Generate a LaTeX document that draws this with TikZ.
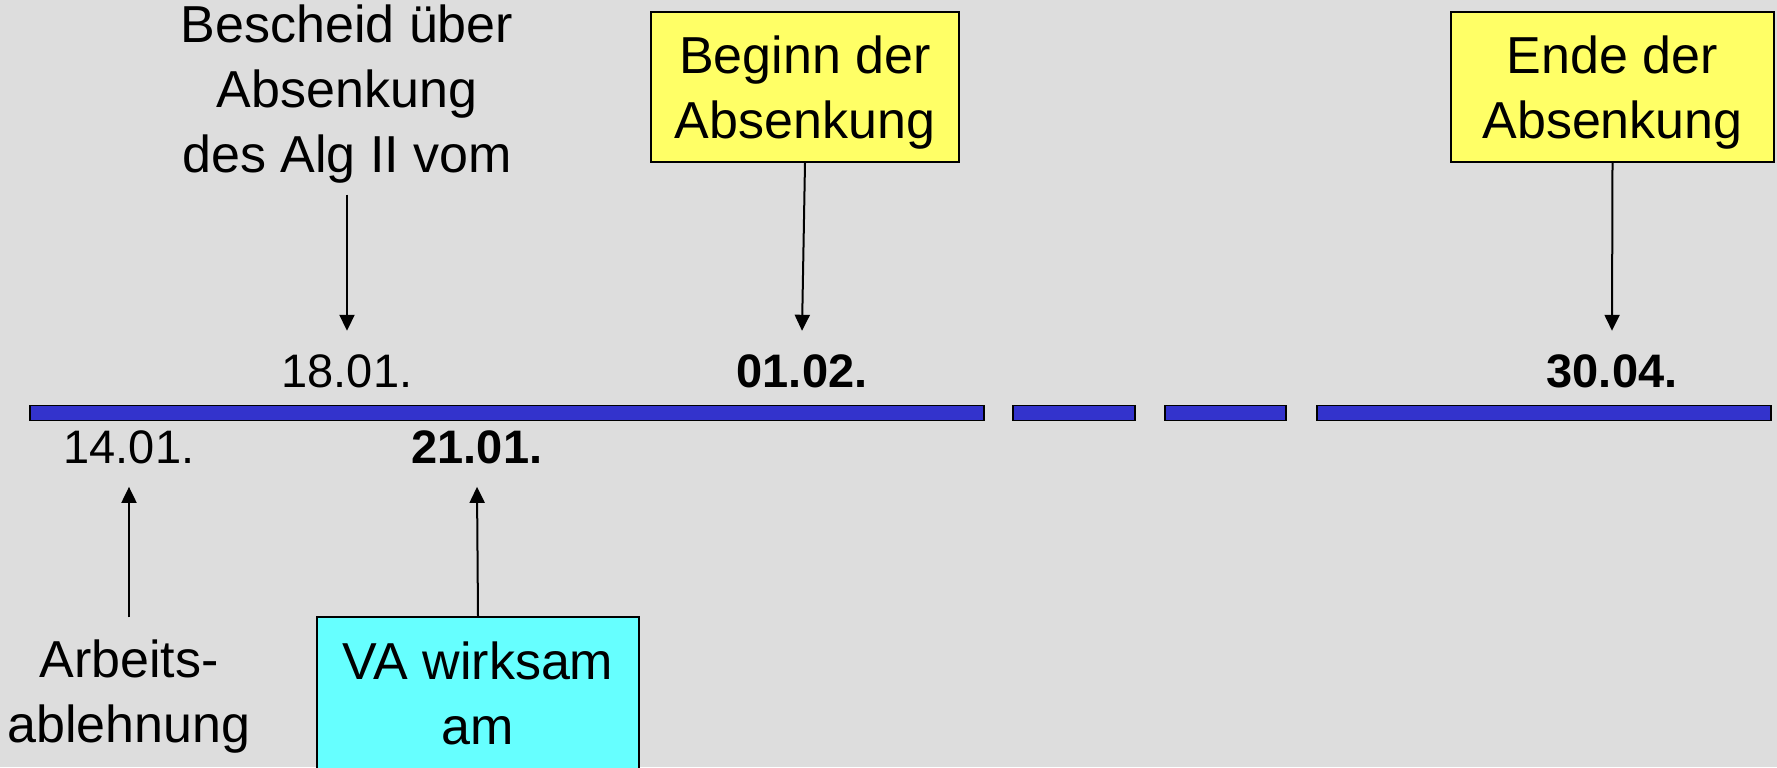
\documentclass[tikz,border=0pt]{standalone}
\usepackage{fontspec}
\setmainfont{Liberation Sans}
\usetikzlibrary{arrows.meta}
\definecolor{BackClr}{rgb}{0.867,0.867,0.867}
\definecolor{BarClr}{rgb}{0.2,0.2,0.8}
\definecolor{MarkClr}{rgb}{1,1,0.4}
\definecolor{VAClr}{rgb}{0.4,1,1}

\begin{document}
\begin{tikzpicture}[x=0.5pt,y=-0.5pt,
  txtnote/.style={align=center,inner xsep=0pt,inner ysep=11pt,text depth=0pt,
    font=\fontsize{26}{32.5}\selectfont},
  datenode/.style={anchor=base,inner xsep=0pt,inner ysep=11.5pt,
    font=\fontsize{23.5}{28}\selectfont},
  markbox/.style={draw=black,line width=0.85pt,inner sep=0pt,align=center,
    text depth=0pt,font=\fontsize{26}{32.5}\selectfont},
  connarrow/.style={line width=1pt,-{Triangle[length=8pt,width=7.5pt]}},
  barseg/.style={draw=black,line width=0.8pt,fill=BarClr}]

\useasboundingbox (0,0) rectangle (1777,767);
\clip (0,0) rectangle (1777,767);
\fill[BackClr] (0,0) rectangle (1777,767);

% Zeitstrahl
\draw[barseg] (30,405.5) rectangle (984,420.5);
\draw[barseg] (1013,405.5) rectangle (1135,420.5);
\draw[barseg] (1165,405.5) rectangle (1286,420.5);
\draw[barseg] (1317,405.5) rectangle (1771,420.5);

% Daten
\node[datenode] (D1801) at (347,387) {18.01.};
\node[datenode,font=\fontsize{23.5}{28}\selectfont\bfseries] (D0102) at (802,387) {01.02.};
\node[datenode,font=\fontsize{23.5}{28}\selectfont\bfseries] (D3004) at (1612,387) {30.04.};
\node[datenode] (D1401) at (129,463) {14.01.};
\node[datenode,font=\fontsize{23.5}{28}\selectfont\bfseries] (D2101) at (477,463) {21.01.};

% Ereignisse
\node[txtnote] (Bescheid) at (347,88.5) {Bescheid über\\Absenkung\\des Alg II vom};
\node[markbox,fill=MarkClr,minimum width=154pt,minimum height=75pt] (Beginn) at (805,87)
  {Beginn der\\Absenkung};
\node[markbox,fill=MarkClr,minimum width=161.5pt,minimum height=75pt] (Ende) at (1612.5,87)
  {Ende der\\Absenkung};
\node[txtnote] (Arbeit) at (129,691) {Arbeits-\\ablehnung};
\node[markbox,fill=VAClr,minimum width=161pt,minimum height=76.5pt] (VA) at (478,693.5)
  {VA wirksam\\am};

\draw[connarrow] (Bescheid.south) -- (D1801.north);
\draw[connarrow] (Beginn.south) -- (D0102.north);
\draw[connarrow] (Ende.south) -- (D3004.north);
\draw[connarrow] (Arbeit.north) -- (D1401.south);
\draw[connarrow] (VA.north) -- (D2101.south);

\end{tikzpicture}
\end{document}
